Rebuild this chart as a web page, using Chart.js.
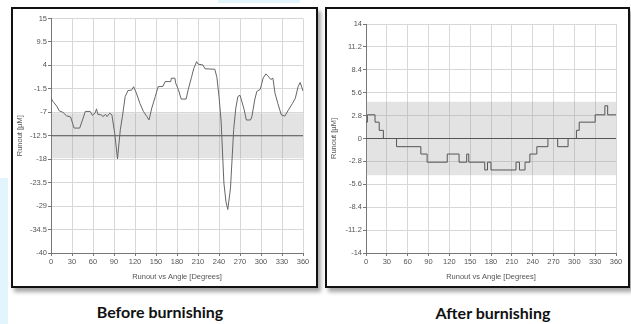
<!DOCTYPE html>
<html>
<head>
<meta charset="utf-8">
<script src="https://cdn.jsdelivr.net/npm/chart.js@4/dist/chart.umd.min.js"></script>
<style>
  body { margin: 0; width: 631px; height: 324px; background: #fff; position: relative; overflow: hidden; }
  .panel { position: absolute; box-sizing: border-box; border: 2px solid #111; background: #fff;
           box-shadow: 3px 4px 4px rgba(0,0,0,0.35); }
  .panel .box { position: absolute; left: 0; top: 0; }
  .caption { position: absolute; width: 200px; text-align: center; font: bold 16px Lato, "Open Sans", sans-serif; color: #111; }
  .tint { position: absolute; background: #e2f5fc; }
</style>
</head>
<body>
<div class="tint" style="left:0;top:178px;width:8px;height:146px"></div>
<div class="tint" style="left:218px;top:0;width:82px;height:3px"></div>

<div class="panel" style="left:11px;top:7px;width:307px;height:281px">
  <div class="box" style="width:303px;height:277px"><canvas id="beforeChart"></canvas></div>
</div>
<div class="panel" style="left:325px;top:7px;width:305px;height:281px">
  <div class="box" style="width:301px;height:277px"><canvas id="afterChart"></canvas></div>
</div>
<div class="caption" style="left:60px;top:302px">Before burnishing</div>
<div class="caption" style="left:393px;top:303px">After burnishing</div>

<script>
// angle ticks shared by both plots
var xTicks = [0, 30, 60, 90, 120, 150, 180, 210, 240, 270, 300, 330, 360];

// before burnishing
var beforeTicks = [15, 9.5, 4, -1.5, -7, -12.5, -18, -23.5, -29, -34.5, -40];
var beforeBand = [-7.2, -17.8];
var beforeMean = -12.5;
var beforeAngle = [0, 3, 8, 12, 17, 22, 28, 33, 41, 45, 49, 56, 59, 63, 65, 67, 72, 74, 78, 80, 84, 87,
    91, 95, 99, 102, 106, 110, 115, 118, 122, 127, 132, 137, 140, 144, 149, 153, 160, 163, 171, 172,
    177, 178, 182, 186, 193, 196, 201, 204, 208, 210, 217, 220, 234, 237, 240, 243, 247, 250, 252.5,
    255.5, 256.5, 257.5, 259, 261, 264, 267, 270, 272, 276, 279, 285, 287, 291, 294, 299, 303, 307,
    310, 314, 317, 320, 324, 329, 334, 339, 345, 349, 353, 356, 359, 360];
var beforeRunout = [-3.7, -4.5, -5.5, -6.7, -7, -7.8, -8.1, -10.7, -10.7, -8.8, -6.8, -6.8, -7.7, -7.2,
    -6.2, -7.5, -7.6, -8, -7.5, -8, -7.2, -7.6, -11.9, -17.9, -11.1, -8, -3.3, -1.9, -1.8, -1, -2.5,
    -4.9, -6.8, -8, -8.8, -6, -3.3, -1, -0.9, 0.2, 0.2, 1, 1, -0.1, -1.7, -3.9, -3.9, -1.7, 1.4, 3.3,
    4.9, 4.3, 4.1, 3.2, 3.1, 1.2, -3.3, -9, -23.6, -28, -29.8, -26, -24.5, -21.5, -17, -11, -6, -3.3,
    -3, -4.1, -6.4, -8.8, -8.8, -8, -4.1, -2.1, -1.6, 1, 2, 1.5, 0.7, 1, -2.5, -4.9, -7.6, -7.9, -6.5,
    -4.9, -3.7, -1, 0, -1.5, -2];

// after burnishing (stepped trace, each value holds until the next angle)
var afterTicks = [14, 11.2, 8.4, 5.6, 2.8, 0, -2.8, -5.6, -8.4, -11.2, -14];
var afterBand = [4.5, -4.5];
var afterMean = 0;
var afterAngle = [0, 2, 13, 19, 25, 44, 79, 88, 117, 134, 145, 148, 171, 175, 180, 216, 221, 229,
    236, 246, 262, 276, 291, 303, 307, 330, 344, 348, 360];
var afterRunout = [2.0, 2.9, 2.0, 1.0, 0, -1.0, -1.9, -2.9, -1.9, -2.9, -1.9, -2.9, -3.85, -2.9, -3.85,
    -2.9, -3.85, -2.9, -1.9, -1.0, 0, -1.0, 0, 1.0, 2.0, 2.9, 4.0, 2.9, 2.9];

var tickFont = { family: "'Liberation Sans Narrow', 'Liberation Sans', Arial, sans-serif", size: 7.5 };

function pts(xs, ys) {
    return xs.map(function (x, i) { return { x: x, y: ys[i] }; });
}

function makeChart(id, angles, values, yTicks, band, mean, stepped, lineColor, leftW, pad) {
    var ctx = document.getElementById(id).getContext('2d');
    return new Chart(ctx, {
        type: 'line',
        data: {
            datasets: [{
                data: pts([0, 360], [band[0], band[0]]),
                borderWidth: 0, pointRadius: 0, fill: '+1',
                backgroundColor: 'rgba(150,150,150,0.27)', order: 3
            }, {
                data: pts([0, 360], [band[1], band[1]]),
                borderWidth: 0, pointRadius: 0, fill: false, order: 3
            }, {
                data: pts([0, 360], [mean, mean]),
                borderColor: '#555', borderWidth: 1, pointRadius: 0, fill: false, order: 2
            }, {
                data: pts(angles, values),
                borderColor: lineColor, borderWidth: 1, pointRadius: 0, fill: false,
                tension: 0, stepped: stepped, order: 1
            }]
        },
        options: {
            responsive: true,
            maintainAspectRatio: false,
            animation: false,
            events: [],
            layout: { padding: pad },
            plugins: { legend: { display: false }, tooltip: { enabled: false } },
            scales: {
                x: {
                    type: 'linear', min: 0, max: 360,
                    afterBuildTicks: function (s) { s.ticks = xTicks.map(function (v) { return { value: v }; }); },
                    afterFit: function (s) { s.height = 33; },
                    grid: { color: '#d8d8d8', tickColor: '#777', tickLength: 3 },
                    border: { color: '#777' },
                    ticks: { font: tickFont, color: '#555', padding: 1, maxRotation: 0, autoSkip: false },
                    title: { display: true, text: 'Runout vs Angle [Degrees]', font: tickFont, color: '#555',
                             padding: { top: 0, bottom: 5 } }
                },
                y: {
                    type: 'linear', min: yTicks[yTicks.length - 1], max: yTicks[0],
                    afterBuildTicks: function (s) { s.ticks = yTicks.map(function (v) { return { value: v }; }); },
                    afterFit: function (s) { s.width = leftW; },
                    grid: { color: '#d8d8d8', tickColor: '#777', tickLength: 3 },
                    border: { color: '#777' },
                    ticks: { font: tickFont, color: '#555', padding: 1, autoSkip: false,
                             callback: function (v) { return String(v); } },
                    title: { display: true, text: 'Runout [µM]', font: tickFont, color: '#555',
                             padding: { top: 2, bottom: 0 } }
                }
            }
        }
    });
}

makeChart('beforeChart', beforeAngle, beforeRunout, beforeTicks, beforeBand, beforeMean, false, '#666', 38,
    { left: 0, right: 13, top: 9.5, bottom: 0 });
makeChart('afterChart', afterAngle, afterRunout, afterTicks, afterBand, afterMean, true, '#555', 39,
    { left: 0, right: 12, top: 15, bottom: 0 });
</script>
</body>
</html>
